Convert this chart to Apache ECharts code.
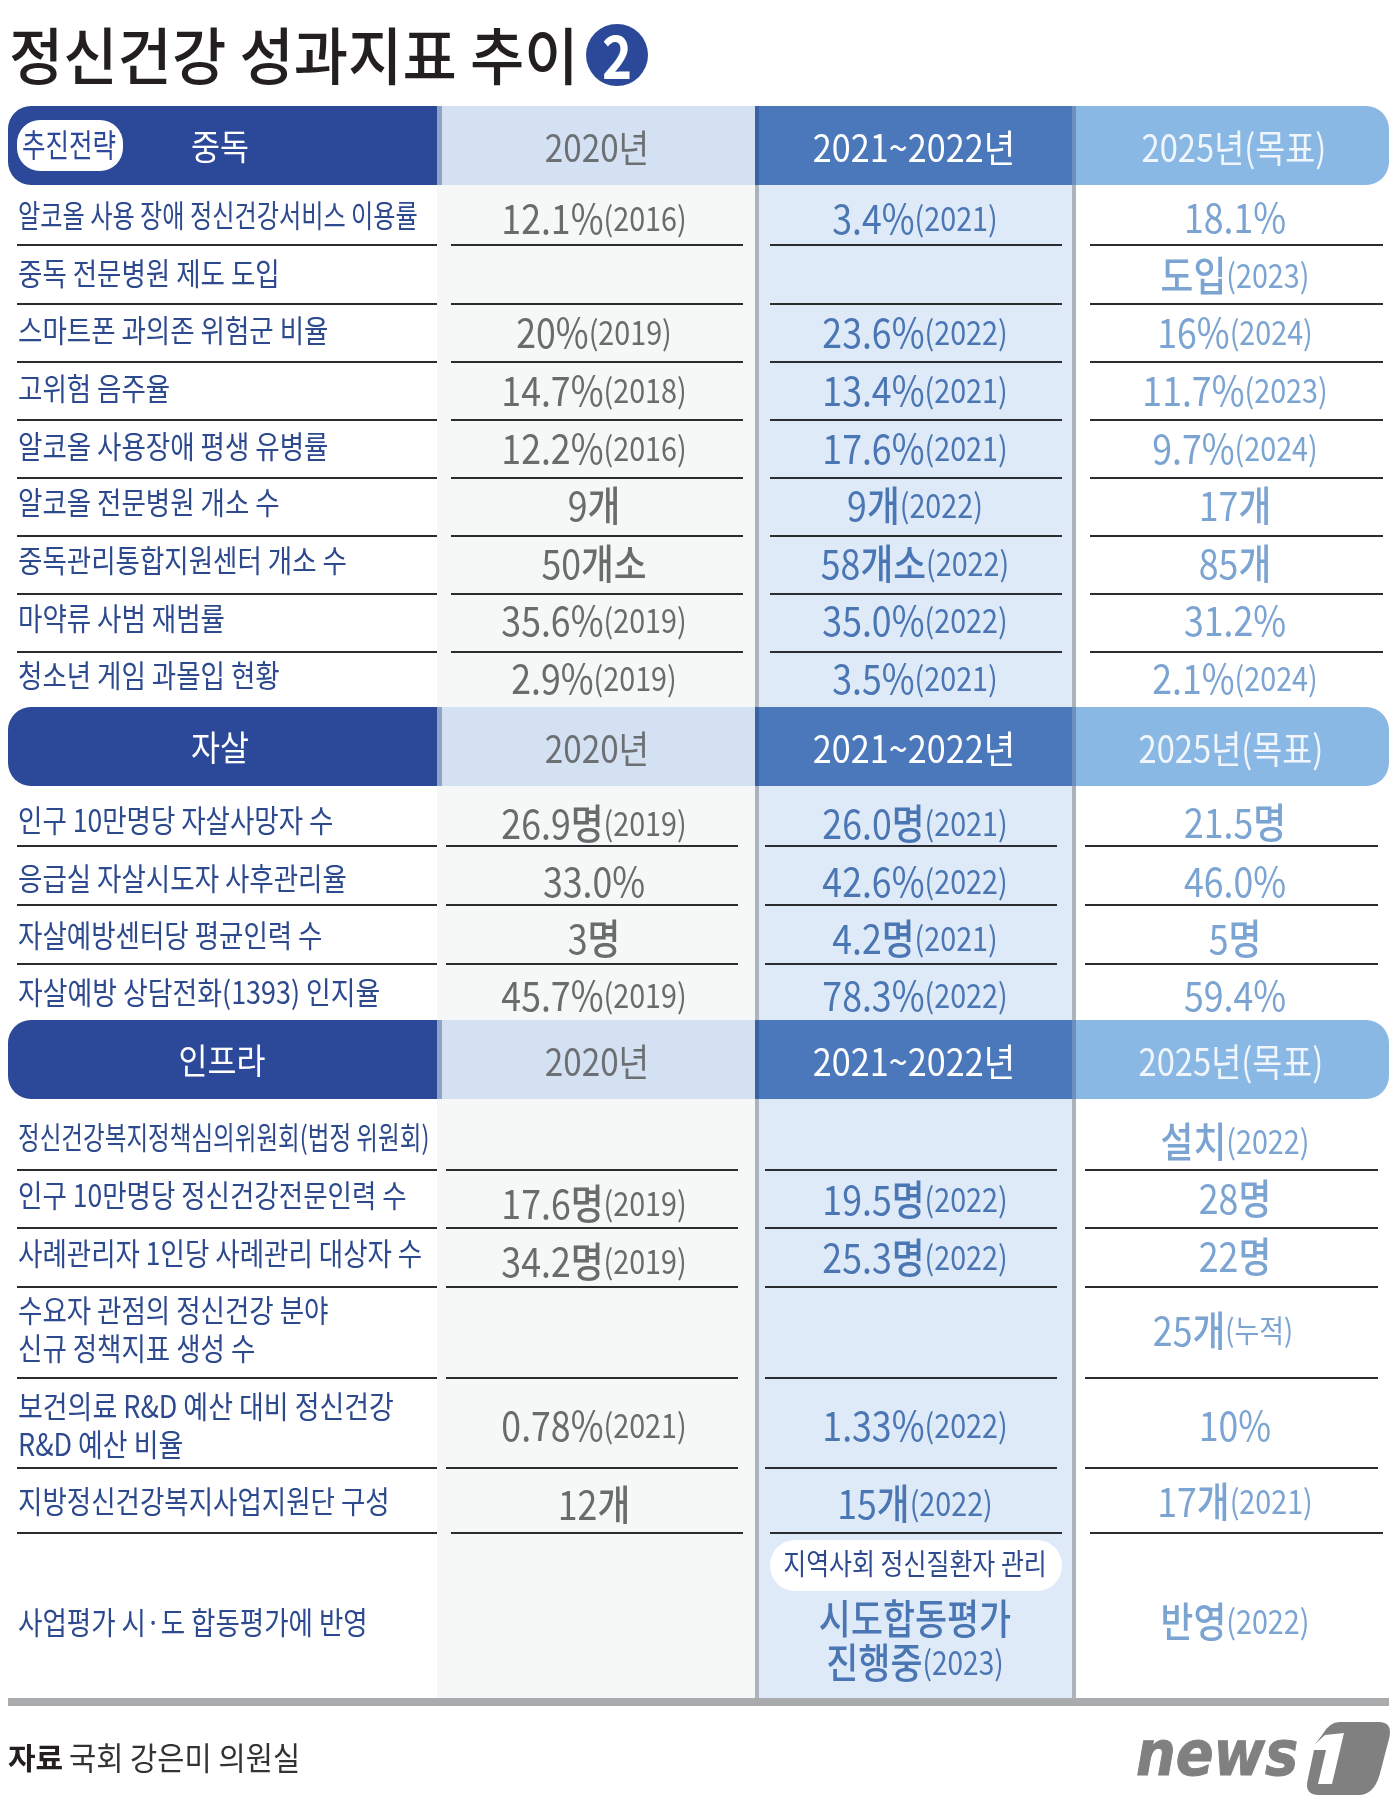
<!DOCTYPE html>
<html>
<head>
  <meta charset="utf-8">
  <title>정신건강 성과지표 추이</title>
  <script src="https://cdn.jsdelivr.net/npm/echarts@6/dist/echarts.min.js"></script>
  <style>
    html, body { margin: 0; background: #fff; }
    #main { width: 1400px; height: 1813px; }
  </style>
</head>
<body>
<div id="main"></div>
<script type="text/javascript">
// --- data ---
var chartTitle = '정신건강 성과지표 추이';
var chartPart = '2';
var sourceHead = '자료';
var sourceText = '국회 강은미 의원실';
var strategyTag = '추진전략';
var sections = ['중독', '자살', '인프라'];
var periods = ['2020년', '2021~2022년', '2025년(목표)'];

var rowLabels = [
  '알코올 사용 장애 정신건강서비스 이용률', '중독 전문병원 제도 도입', '스마트폰 과의존 위험군 비율',
  '고위험 음주율', '알코올 사용장애 평생 유병률', '알코올 전문병원 개소 수',
  '중독관리통합지원센터 개소 수', '마약류 사범 재범률', '청소년 게임 과몰입 현황',
  '인구 10만명당 자살사망자 수', '응급실 자살시도자 사후관리율', '자살예방센터당 평균인력 수',
  '자살예방 상담전화(1393) 인지율',
  '정신건강복지정책심의위원회(법정 위원회)', '인구 10만명당 정신건강전문인력 수', '사례관리자 1인당 사례관리 대상자 수',
  '수요자 관점의 정신건강 분야\n신규 정책지표 생성 수', '보건의료 R&D 예산 대비 정신건강\nR&D 예산 비율',
  '지방정신건강복지사업지원단 구성', '사업평가 시·도 합동평가에 반영'
];
var values2020 = ['12.1%', '', '20%', '14.7%', '12.2%', '9개', '50개소', '35.6%', '2.9%',
  '26.9명', '33.0%', '3명', '45.7%', '', '17.6명', '34.2명', '', '0.78%', '12개', ''];
var notes2020 = ['(2016)', '', '(2019)', '(2018)', '(2016)', '', '', '(2019)', '(2019)',
  '(2019)', '', '', '(2019)', '', '(2019)', '(2019)', '', '(2021)', '', ''];
var values2021 = ['3.4%', '', '23.6%', '13.4%', '17.6%', '9개', '58개소', '35.0%', '3.5%',
  '26.0명', '42.6%', '4.2명', '78.3%', '', '19.5명', '25.3명', '', '1.33%', '15개', '시도합동평가\n진행중'];
var notes2021 = ['(2021)', '', '(2022)', '(2021)', '(2021)', '(2022)', '(2022)', '(2022)', '(2021)',
  '(2021)', '(2022)', '(2021)', '(2022)', '', '(2022)', '(2022)', '', '(2022)', '(2022)', '(2023)'];
var values2025 = ['18.1%', '도입', '16%', '11.7%', '9.7%', '17개', '85개', '31.2%', '2.1%',
  '21.5명', '46.0%', '5명', '59.4%', '설치', '28명', '22명', '25개', '10%', '17개', '반영'];
var notes2025 = ['', '(2023)', '(2024)', '(2023)', '(2024)', '', '', '', '(2024)',
  '', '', '', '', '(2022)', '', '', '(누적)', '', '(2021)', '(2022)'];
var badgeText = '지역사회 정신질환자 관리';

// --- layout (page pixels, the axes below run 0-1400 and 0-1813) ---
var FONT = '"Noto Sans CJK KR", "Noto Sans", sans-serif';
var NAVY = '#2b4899';
var headerTop = [106, 707, 1020];
var headerH = 79;
var labelY = [215, 273, 330, 388, 446, 502, 560, 618, 675, 820, 878, 935, 992, 1137, 1195, 1253, 1329, 1425, 1501, 1622];
var y2020 = [218, 0, 332, 390, 448, 505, 563, 620, 678, 823, 881, 938, 995, 0, 1203, 1261, 0, 1425, 1504, 0];
var y2021 = [218, 0, 332, 390, 448, 505, 563, 620, 678, 823, 881, 938, 995, 0, 1199, 1257, 0, 1425, 1503, 1640];
var y2025 = [217, 275, 332, 390, 448, 505, 563, 620, 678, 822, 881, 938, 995, 1141, 1198, 1256, 1330, 1425, 1501, 1621];
var ruleY = [245, 304, 362, 420, 478, 536, 594, 652, 0, 846, 905, 964, 0, 1170, 1228, 1287, 1378, 1468, 1533, 0];
var ruleWide = [[17, 437], [451, 743], [770, 1062], [1090, 1383]];
var ruleTight = [[17, 437], [446, 738], [765, 1057], [1085, 1378]];
var bands = [
  { x0: 437, x1: 755, fill: '#f6f8f8' },
  { x0: 755, x1: 1072, fill: '#deeaf8' },
  { x0: 755, x1: 759, fill: '#aab3be' },
  { x0: 1072, x1: 1076, fill: '#adb3ba' }
];
var valueCols = [
  { x: 594, values: values2020, notes: notes2020, ys: y2020, fill: '#696b6d' },
  { x: 915, values: values2021, notes: notes2021, ys: y2021, fill: '#4a76b4' },
  { x: 1235, values: values2025, notes: notes2025, ys: y2025, fill: '#7ba4d2' }
];
var periodX = [597, 914, 1234];
var periodScale = [0.875, 0.9, 0.86];
// rows whose text sits off the usual position or is squeezed differently
var labelScales = { 0: 0.78, 12: 0.868, 13: 0.76, 17: 0.87 };
var NUJEOK_ROW = 16;
var MERGED_ROW = 19;

function box(api, x0, y0, x1, y1, fill, r) {
  var a = api.coord([x0, y0]);
  var b = api.coord([x1, y1]);
  return {
    type: 'rect',
    shape: { x: a[0], y: a[1], width: b[0] - a[0], height: b[1] - a[1], r: r || 0 },
    style: { fill: fill }
  };
}

function label(api, x, y, text, size, fill, opts) {
  opts = opts || {};
  var p = api.coord([x, y]);
  return {
    type: 'text',
    x: p[0],
    y: p[1],
    scaleX: opts.scaleX || 0.8,
    style: {
      text: text,
      fill: fill,
      fontFamily: FONT,
      fontSize: size,
      fontWeight: opts.weight || 400,
      lineHeight: opts.lineHeight,
      rich: opts.rich,
      align: opts.align || 'center',
      verticalAlign: 'middle'
    }
  };
}

function valueText(api, col, row) {
  var big = 41;
  var merged = row === MERGED_ROW && col.x === 915;
  var x = row === NUJEOK_ROW && col.x === 1235 ? col.x - 12 : col.x;
  var rich = {
    v: { fontFamily: FONT, fontSize: big, fontWeight: 400, fill: col.fill, lineHeight: 44 },
    k: { fontFamily: FONT, fontSize: big, fontWeight: 500, fill: col.fill, lineHeight: 44 },
    n: { fontFamily: FONT, fontSize: row === NUJEOK_ROW ? 31 : 33, fontWeight: 400, fill: col.fill, lineHeight: 44 }
  };
  var lines = col.values[row].split('\n');
  var text = lines.map(function (line, i) {
    var note = i === lines.length - 1 && col.notes[row] ? '{n|' + col.notes[row] + '}' : '';
    return line.replace(/[가-힣]+|[^가-힣]+/g, function (run) {
      return (/[가-힣]/.test(run) ? '{k|' : '{v|') + run + '}';
    }) + note;
  }).join('\n');
  return label(api, x, col.ys[row], text, big, col.fill, { rich: rich, scaleX: merged ? 0.85 : 0.87 });
}

function renderBand(params, api) {
  var b = bands[api.value(0)];
  return box(api, b.x0, 184, b.x1, 1698, b.fill);
}

function renderHeader(params, api) {
  var i = api.value(0);
  var top = headerTop[i];
  var bottom = top + headerH;
  var mid = top + headerH / 2 + 2;
  var off = i === 0 ? 0 : -3;
  var children = [
    box(api, 8, top, 438, bottom, NAVY, [23, 0, 0, 23]),
    box(api, 437, top, 443, bottom, '#8fa3c6'),
    box(api, 442, top, 755, bottom, '#d3e1f2'),
    box(api, 755, top, 1072, bottom, '#4b77bb'),
    box(api, 755, top, 759, bottom, '#3a62a5'),
    box(api, 1072, top, 1076, bottom, '#6d8fc0'),
    box(api, 1076, top, 1389, bottom, '#8ab8e5', [0, 23, 23, 0]),
    label(api, i === 2 ? 222 : 220, mid - 1, sections[i], 35, '#ffffff', { scaleX: 0.9 }),
    label(api, periodX[0], mid, periods[0], 38, '#6d7072', { scaleX: periodScale[0] }),
    label(api, periodX[1], mid, periods[1], 38, '#ffffff', { scaleX: periodScale[1] }),
    label(api, periodX[2] + off, mid, periods[2], 38, '#f1f6fc', { scaleX: periodScale[2] })
  ];
  if (i === 0) {
    children.push(box(api, 17, 120, 123, 171, '#ffffff', 23));
    children.push(label(api, 69, 145, strategyTag, 32, NAVY, { scaleX: 0.8 }));
  }
  return { type: 'group', children: children };
}

function renderRule(params, api) {
  var row = api.value(0);
  var y = ruleY[row];
  var ext = row < 9 || row === 18 ? ruleWide : ruleTight;
  return {
    type: 'group',
    children: ext.map(function (e) {
      return box(api, e[0], y - 1, e[1], y + 1, '#2a2c30');
    })
  };
}

function renderRow(params, api) {
  var row = api.value(0);
  var children = [label(api, 18, labelY[row], rowLabels[row], 31, '#2d4a8e', {
    align: 'left', scaleX: labelScales[row] || 0.855, lineHeight: 38
  })];
  valueCols.forEach(function (col) {
    if (col.values[row]) {
      children.push(valueText(api, col, row));
    }
  });
  return { type: 'group', children: children };
}

function renderBadge(params, api) {
  return {
    type: 'group',
    children: [
      box(api, 770, 1540, 1062, 1591, '#ffffff', 25),
      label(api, 915, 1564, badgeText, 29, '#2d4a8e', { scaleX: 0.86 })
    ]
  };
}

// rounded, slanted news1 mark
function renderLogo(params, api) {
  var p = api.coord([1307, 1722]);
  return {
    type: 'group',
    x: p[0],
    y: p[1],
    children: [
      { type: 'path',
        shape: { x: 0, y: 0, width: 83, height: 73, layout: 'cover',
          pathData: 'M33 0L72 0Q86 0 83 15L73 53Q67 73 52 73L12 73Q-2 73 0 60L6 32L8 22L15 13Q22 0 33 0Z' },
        style: { fill: '#808080' } },
      { type: 'polygon',
        shape: { points: [[8, 22], [18, 13], [37, 11], [25, 62], [11, 62], [19, 28], [5, 28]] },
        style: { fill: '#ffffff' } }
    ]
  };
}

function idx(arr, keep) {
  var res = [];
  for (var i = 0; i < arr.length; i++) {
    if (!keep || keep(i)) {
      res.push([i, i]);
    }
  }
  return res;
}

function custom(render, data, z) {
  return { type: 'custom', renderItem: render, data: data, z: z, silent: true, animation: false };
}

var myChart = echarts.init(document.getElementById('main'));

myChart.setOption({
  backgroundColor: '#ffffff',
  animation: false,
  grid: { left: 0, right: 0, top: 0, bottom: 0 },
  xAxis: { type: 'value', min: 0, max: 1400, show: false },
  yAxis: { type: 'value', min: 0, max: 1813, inverse: true, show: false },
  graphic: [
    { type: 'text', x: 9, y: 56, scaleX: 0.952, silent: true,
      style: { text: chartTitle, fill: '#231f20', fontFamily: FONT, fontSize: 62, fontWeight: 500, verticalAlign: 'middle' } },
    { type: 'circle', shape: { cx: 617, cy: 55, r: 31 }, style: { fill: NAVY }, silent: true },
    { type: 'text', x: 617, y: 56, scaleX: 0.85, silent: true,
      style: { text: chartPart, fill: '#ffffff', fontFamily: FONT, fontSize: 60, fontWeight: 700, align: 'center', verticalAlign: 'middle' } },
    { type: 'rect', shape: { x: 8, y: 1698, width: 1381, height: 8 }, style: { fill: '#a9abad' }, silent: true, z: 10 },
    { type: 'text', x: 8, y: 1758, silent: true,
      style: { text: sourceHead, fill: '#231f20', fontFamily: FONT, fontSize: 30, fontWeight: 700, verticalAlign: 'middle' } },
    { type: 'text', x: 69, y: 1758, scaleX: 0.925, silent: true,
      style: { text: sourceText, fill: '#333333', fontFamily: FONT, fontSize: 32, fontWeight: 400, verticalAlign: 'middle' } },
    { type: 'text', x: 1136, y: 1759, scaleX: 0.9, silent: true,
      style: { text: 'news', fill: '#808080', stroke: '#808080', lineWidth: 1, fontFamily: '"DejaVu Sans"', fontStyle: 'italic', fontWeight: 700, fontSize: 62, verticalAlign: 'middle' } }
  ],
  series: [
    custom(renderBand, idx(bands), 1),
    custom(renderHeader, idx(sections), 2),
    custom(renderRule, idx(ruleY, function (i) { return ruleY[i] > 0; }), 3),
    custom(renderRow, idx(rowLabels), 4),
    custom(renderBadge, [[0, 0]], 4),
    custom(renderLogo, [[0, 0]], 4)
  ]
});
</script>
</body>
</html>
